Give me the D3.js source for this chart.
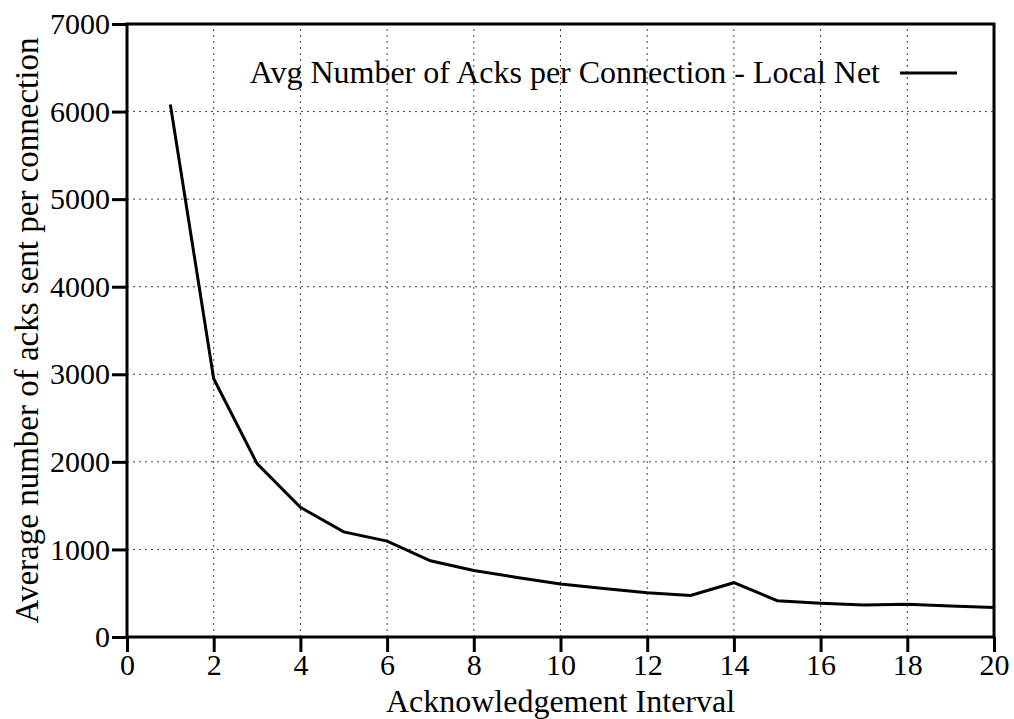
<!DOCTYPE html>
<html>
<head>
<meta charset="utf-8">
<script src="https://cdn.jsdelivr.net/npm/d3@7"></script>
</head>
<body style="margin:0">
<script>
// data
const intervals = [1, 2, 3, 4, 5, 6, 7, 8, 9, 10, 11, 12, 13, 14, 15, 16, 17, 18, 19, 20];
const avgAcks = [6080, 2950, 1980, 1480, 1200, 1095, 870, 760, 680, 605, 555, 505, 475, 620, 415, 385, 365, 373, 355, 338];
const xTicks = [0, 2, 4, 6, 8, 10, 12, 14, 16, 18, 20];
const yTicks = [0, 1000, 2000, 3000, 4000, 5000, 6000, 7000];
const seriesName = "Avg Number of Acks per Connection - Local Net";

const FONT = "'Liberation Serif'";
const width = 1014, height = 719;
const margin = { top: 24, right: 20, bottom: 82, left: 127 };

const root = d3.select("body").append("svg")
  .attr("width", width)
  .attr("height", height);

const svg = root.append("g")
  .attr("font-family", "Liberation Serif")
  .style("font-family", FONT);

const x = d3.scaleLinear().domain([0, 20]).range([margin.left, width - margin.right]);
const y = d3.scaleLinear().domain([0, 7000]).range([height - margin.bottom, margin.top]);

// grid
svg.append("g")
  .selectAll("line")
  .data(xTicks.slice(1, -1))
  .enter().append("line")
  .attr("x1", d => x(d)).attr("x2", d => x(d))
  .attr("y1", y(0)).attr("y2", y(7000))
  .attr("stroke", "#444").attr("stroke-width", 1).attr("stroke-dasharray", "2,4");

svg.append("g")
  .selectAll("line")
  .data(yTicks.slice(1, -1))
  .enter().append("line")
  .attr("x1", x(0)).attr("x2", x(20))
  .attr("y1", d => y(d)).attr("y2", d => y(d))
  .attr("stroke", "#444").attr("stroke-width", 1).attr("stroke-dasharray", "2,4");

// axes
const xAxis = svg.append("g")
  .attr("transform", "translate(0," + y(0) + ")")
  .call(d3.axisBottom(x).tickValues(xTicks).tickFormat(d3.format("d"))
    .tickSize(15).tickPadding(2).tickSizeOuter(0));
const yAxis = svg.append("g")
  .attr("transform", "translate(" + x(0) + ",0)")
  .call(d3.axisLeft(y).tickValues(yTicks).tickFormat(d3.format("d"))
    .tickSize(15).tickPadding(2).tickSizeOuter(0));

[xAxis, yAxis].forEach(function (g) {
  g.attr("font-family", "Liberation Serif").attr("font-size", 30);
  g.select(".domain").remove();
  g.selectAll(".tick line").attr("stroke", "#000").attr("stroke-width", 3);
  g.selectAll(".tick text")
    .style("font-family", FONT)
    .style("font-size", "30px")
    .attr("fill", "#000");
});

// frame
svg.append("rect")
  .attr("x", x(0)).attr("y", y(7000))
  .attr("width", x(20) - x(0)).attr("height", y(0) - y(7000))
  .attr("fill", "none").attr("stroke", "#000").attr("stroke-width", 3);

// data line
const line = d3.line()
  .x((d, i) => x(intervals[i]))
  .y(d => y(d));

svg.append("path")
  .datum(avgAcks)
  .attr("d", line)
  .attr("fill", "none")
  .attr("stroke", "#000")
  .attr("stroke-width", 3);

// legend
const legend = svg.append("g");
legend.append("text")
  .attr("x", 880).attr("y", 83)
  .attr("text-anchor", "end")
  .style("font-family", FONT)
  .style("font-size", "32px")
  .text(seriesName);
legend.append("line")
  .attr("x1", 900).attr("x2", 957)
  .attr("y1", 73).attr("y2", 73)
  .attr("stroke", "#000").attr("stroke-width", 3);

// axis titles
svg.append("text")
  .attr("x", (x(0) + x(20)) / 2).attr("y", 712)
  .attr("text-anchor", "middle")
  .style("font-family", FONT)
  .style("font-size", "32px")
  .text("Acknowledgement Interval");

svg.append("text")
  .attr("transform", "translate(38," + ((y(0) + y(7000)) / 2) + ") rotate(-90)")
  .attr("text-anchor", "middle")
  .style("font-family", FONT)
  .style("font-size", "33px")
  .text("Average number of acks sent per connection");
</script>
</body>
</html>
